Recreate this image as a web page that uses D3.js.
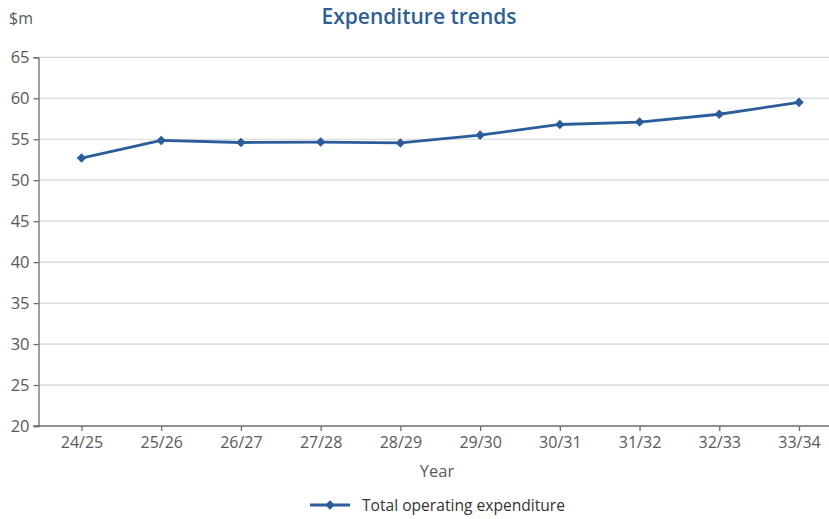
<!DOCTYPE html>
<html>
<head>
<meta charset="utf-8">
<script src="https://cdn.jsdelivr.net/npm/d3@7"></script>
<style>
  html, body { margin: 0; padding: 0; background: #ffffff; }
  svg { display: block; font-family: "Open Sans", "Noto Sans", sans-serif; }
</style>
</head>
<body>
<svg id="chart" width="829" height="519"></svg>
<script>
// Financial years on the x axis
const years = ["24/25", "25/26", "26/27", "27/28", "28/29", "29/30", "30/31", "31/32", "32/33", "33/34"];
// Total operating expenditure, $m
const expenditure = [52.7, 54.85, 54.6, 54.65, 54.55, 55.5, 56.8, 57.1, 58.05, 59.5];
// Y axis ticks
const yTicks = [20, 25, 30, 35, 40, 45, 50, 55, 60, 65];
const seriesName = "Total operating expenditure";

const svg = d3.select("#chart");
const lineColor = "#2a5d9a";
const textColor = "#595959";

const plot = { left: 38.5, right: 829, top: 57.3, bottom: 426 };

const x = d3.scalePoint().domain(years).range([81.5, 799]);
const y = d3.scaleLinear().domain([20, 65]).range([plot.bottom, plot.top]);

// Horizontal gridlines
svg.append("g")
  .selectAll("line")
  .data(yTicks.filter(d => d !== 20))
  .join("line")
  .attr("x1", plot.left).attr("x2", plot.right)
  .attr("y1", d => y(d)).attr("y2", d => y(d))
  .attr("stroke", "#d4d4d4").attr("stroke-width", 1.2);

// Y axis
const yAxis = svg.append("g")
  .attr("transform", `translate(${plot.left},0)`)
  .call(d3.axisLeft(y).tickValues(yTicks).tickSize(5).tickPadding(4));
yAxis.select(".domain").attr("stroke", "#6b6b6b").attr("stroke-width", 1.3);
yAxis.selectAll(".tick line").attr("stroke", "#6b6b6b").attr("stroke-width", 1.3);
yAxis.selectAll(".tick text")
  .attr("fill", textColor).attr("font-size", 16.5)
  .attr("font-family", "'Open Sans', 'Noto Sans', sans-serif");

// X axis
const xAxis = svg.append("g")
  .attr("transform", `translate(0,${plot.bottom})`)
  .call(d3.axisBottom(x).tickSize(5).tickPadding(6));
xAxis.select(".domain").remove();
xAxis.append("line")
  .attr("x1", plot.left - 5).attr("x2", plot.right)
  .attr("stroke", "#6b6b6b").attr("stroke-width", 1.3);
xAxis.selectAll(".tick line").attr("stroke", "#6b6b6b").attr("stroke-width", 1.3);
xAxis.selectAll(".tick text")
  .attr("fill", textColor).attr("font-size", 16)
  .attr("font-family", "'Open Sans', 'Noto Sans', sans-serif");

// Series line
const line = d3.line()
  .x((d, i) => x(years[i]))
  .y(d => y(d));

svg.append("path")
  .datum(expenditure)
  .attr("d", line)
  .attr("fill", "none")
  .attr("stroke", lineColor)
  .attr("stroke-width", 2.8)
  .attr("stroke-linejoin", "round");

// Diamond markers
const diamond = d3.symbol().type(d3.symbolDiamond2).size(58);
svg.append("g")
  .selectAll("path")
  .data(expenditure)
  .join("path")
  .attr("d", diamond)
  .attr("transform", (d, i) => `translate(${x(years[i])},${y(d)})`)
  .attr("fill", lineColor);

// Title
svg.append("text")
  .attr("x", 419).attr("y", 24)
  .attr("text-anchor", "middle")
  .attr("font-size", 21).attr("font-weight", 600)
  .attr("fill", "#2e5f94")
  .text("Expenditure trends");

// Y unit label
svg.append("text")
  .attr("x", 9).attr("y", 24)
  .attr("font-size", 16)
  .attr("fill", textColor)
  .text("$m");

// X axis title
svg.append("text")
  .attr("x", 437).attr("y", 477)
  .attr("text-anchor", "middle")
  .attr("font-size", 16.5)
  .attr("fill", textColor)
  .text("Year");

// Legend
const legend = svg.append("g").attr("transform", "translate(310,505)");
legend.append("line")
  .attr("x1", 0).attr("x2", 40)
  .attr("stroke", lineColor).attr("stroke-width", 2.8);
legend.append("path")
  .attr("d", diamond)
  .attr("transform", "translate(20,0)")
  .attr("fill", lineColor);
legend.append("text")
  .attr("x", 52).attr("y", 5.5)
  .attr("font-size", 15.6)
  .attr("fill", "#333333")
  .text(seriesName);
</script>
</body>
</html>
